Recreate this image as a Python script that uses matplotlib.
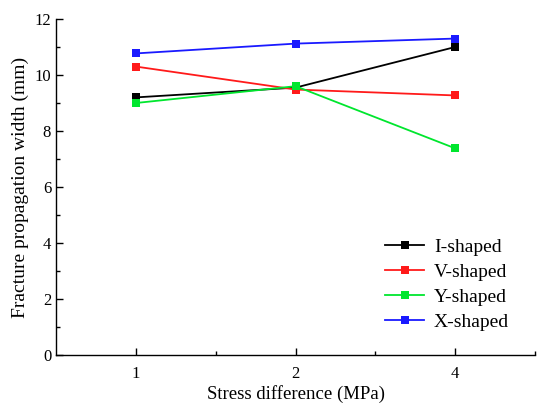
import matplotlib
matplotlib.use('Agg')
import matplotlib.pyplot as plt
from matplotlib.ticker import MultipleLocator

plt.rcParams['font.family'] = ['Liberation Serif', 'DejaVu Serif']

# ---------------------------
# Data
# ---------------------------
stress_labels = ["1", "2", "4"]
i_shaped = [9.2, 9.55, 11.0]
v_shaped = [10.3, 9.48, 9.27]
y_shaped = [9.0, 9.6, 7.38]
x_shaped = [10.77, 11.12, 11.3]

series_names = ["I-shaped", "V-shaped", "Y-shaped", "X-shaped"]
series_colors = ["#000000", "#ff1a1a", "#00e62e", "#1a1aff"]

fig = plt.figure(figsize=(5.5, 4.12), dpi=100)
ax = fig.add_axes([0.102, 0.138, 0.871, 0.816])

xpos = list(range(len(stress_labels)))
for vals, name, col in zip([i_shaped, v_shaped, y_shaped, x_shaped],
                           series_names, series_colors):
    ax.plot(xpos, vals, color=col, lw=1.3, marker='s', ms=5.5,
            markeredgewidth=0, label=name)

ax.set_xlim(-0.5, 2.5)
ax.set_ylim(0, 12)
ax.set_xticks(xpos)
ax.set_xticklabels(stress_labels)
ax.set_xticks([0.5, 1.5, 2.5], minor=True)
ax.yaxis.set_major_locator(MultipleLocator(2))
ax.yaxis.set_minor_locator(MultipleLocator(1))

for side in ['top', 'right']:
    ax.spines[side].set_visible(False)
for side in ['left', 'bottom']:
    ax.spines[side].set_linewidth(1.0)

ax.tick_params(which='major', direction='in', length=5, width=1, labelsize=12)
ax.tick_params(which='minor', direction='in', length=3, width=1)
ax.tick_params(axis='x', pad=8)

ax.set_xlabel("Stress difference (MPa)", fontsize=13.5, labelpad=2)
ax.set_ylabel("Fracture propagation width (mm)", fontsize=14)

ax.legend(loc='lower right', frameon=False, fontsize=14,
          bbox_to_anchor=(0.962, 0.05), borderaxespad=0, handlelength=2.0,
          handletextpad=0.5, labelspacing=0.38)

fig.savefig("out.png", dpi=100)
